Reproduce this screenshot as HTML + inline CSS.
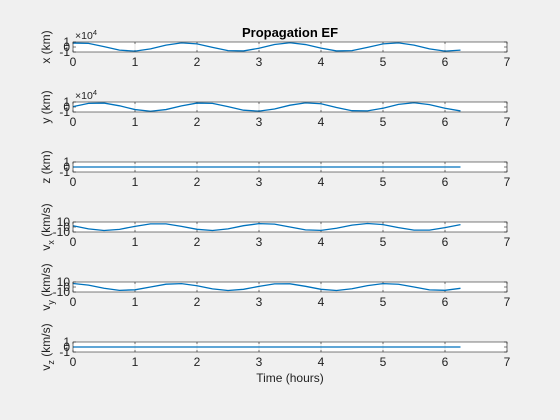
<!DOCTYPE html>
<html><head><meta charset="utf-8"><style>
body{margin:0;background:#f0f0f0;}
svg{display:block;font-family:"Liberation Sans",sans-serif;}
</style></head><body>
<svg id="fig" width="560" height="420" viewBox="0 0 560 420">
<rect width="560" height="420" fill="#f0f0f0"/>
<text x="290" y="37" text-anchor="middle" font-size="13" font-weight="bold" fill="#000">Propagation EF</text>
<text x="290" y="382" text-anchor="middle" font-size="12" fill="#222">Time (hours)</text>
</svg>
<script>
const times=[0,0.25,0.5,0.75,1,1.25,1.5,1.75,2,2.25,2.5,2.75,3,3.25,3.5,3.75,4,4.25,4.5,4.75,5,5.25,5.5,5.75,6,6.25];
const xKm=[7900,7200,800,-6300,-8300,-3800,3700,8300,6300,-800,-7200,-7900,-2500,5000,8500,4900,-2300,-7900,-7200,-800,6200,8300,3800,-3700,-8300,-6300];
const yKm=[800,7200,7900,2400,-5100,-8500,-5100,2300,7900,7200,700,-6400,-8300,-4000,3600,8300,6500,-900,-7400,-7800,-2400,5200,8500,4800,-2600,-7900];
const zKm=times.map(()=>0);
const vx=[2.5,-3.7,-7.0,-4.7,1.3,6.2,6.3,1.3,-4.6,-7.0,-3.7,2.6,6.7,5.7,0,-5.7,-6.7,-2.5,3.7,7.0,4.8,-1.2,-6.2,-6.3,-1.3,4.7];
const vy=[7.0,3.7,-2.5,-6.7,-5.6,0,5.6,6.7,2.5,-3.7,-7.0,-4.6,1.3,6.2,6.4,1.4,-4.6,-7.0,-3.5,2.7,6.7,5.5,0,-5.8,-6.6,-2.6];
const vz=times.map(()=>0);
const xTicks=[0,1,2,3,4,5,6,7];
const panelLabels=["x (km)","y (km)","z (km)","v_x (km/s)","v_y (km/s)","v_z (km/s)"];
const panelNames=["x","y","z","vx","vy","vz"];
const series=[xKm,yKm,zKm,vx,vy,vz];
const yLims=[[-10000,10000],[-10000,10000],[-1,1],[-10,10],[-10,10],[-1,1]];
const yTickSets=[[1,0,-1],[1,0,-1],[1,0,-1],[10,0,-10],[10,0,-10],[1,0,-1]];
const yScaleDiv=[10000,10000,1,1,1,1];

const NS="http://www.w3.org/2000/svg";
const svg=document.getElementById('fig');
const L=73,R=507,H=10;
const sx=t=>L+(t-0)/(7-0)*(R-L);
function mk(tag,attrs,parent){const e=document.createElementNS(NS,tag);for(const k in attrs)e.setAttribute(k,attrs[k]);(parent||svg).appendChild(e);return e;}
series.forEach((data,i)=>{
  const top=42+i*60;
  const [lo,hi]=yLims[i];
  const sy=v=>top+H-(v-lo)/(hi-lo)*H;
  const g=mk('g',{});
  
  
  const bg=mk('rect',{x:L,y:top,width:R-L,height:H,fill:'#fff'},g);
  
  
  xTicks.forEach(t=>{
    const gl=mk('line',{x1:sx(t),x2:sx(t),y1:top,y2:top+H,stroke:'#dcdcdc','stroke-width':0.8},g);
    
    
    const tl=mk('text',{x:sx(t),y:top+24,'text-anchor':'middle','font-size':12,fill:'#222'},g);
    tl.textContent=t;
    
    
    mk('line',{x1:sx(t),x2:sx(t),y1:top+H,y2:top+H-2,stroke:'#262626','stroke-width':0.6},g);
    mk('line',{x1:sx(t),x2:sx(t),y1:top,y2:top+2,stroke:'#262626','stroke-width':0.6},g);
  });
  yTickSets[i].forEach(v=>{
    const yy=sy(v*yScaleDiv[i]);
    mk('line',{x1:L,x2:L+3,y1:yy,y2:yy,stroke:'#262626','stroke-width':0.6},g);
    mk('line',{x1:R,x2:R-3,y1:yy,y2:yy,stroke:'#262626','stroke-width':0.6},g);
    const yl=mk('text',{x:L-3,y:yy+4,'text-anchor':'end','font-size':12,fill:'#222'},g);
    yl.textContent=v;
    
    
  });
  const pts=times.map((t,k)=>sx(t).toFixed(1)+','+sy(data[k]).toFixed(2)).join(' ');
  const ln=mk('polyline',{points:pts,fill:'none',stroke:'#0072bd','stroke-width':1.3},g);
  
  
  const box=mk('rect',{x:L,y:top,width:R-L,height:H,fill:'none',stroke:'#262626','stroke-width':0.6},g);
  
  
  const lbl=panelLabels[i];
  const cy=top+5;
  const t=mk('text',{x:0,y:0,'text-anchor':'middle','font-size':12,fill:'#222',transform:'translate(50,'+cy+') rotate(-90)'},g);
  if(lbl.startsWith('v_')){
    t.appendChild(document.createTextNode('v'));
    const s=mk('tspan',{dy:4,'font-size':9},t);s.textContent=lbl[2];
    const s2=mk('tspan',{dy:-4},t);s2.textContent=lbl.slice(3);
  } else t.textContent=lbl;
  
  
  if(yScaleDiv[i]>1){
    const ex=mk('text',{x:L+2,y:top-3,'font-size':10.5,fill:'#222'},g);
    ex.textContent='×10';
    const sup=mk('tspan',{dy:-4,'font-size':7.5},ex);sup.textContent='4';
    
    
  }
});
</script>
</body></html>
